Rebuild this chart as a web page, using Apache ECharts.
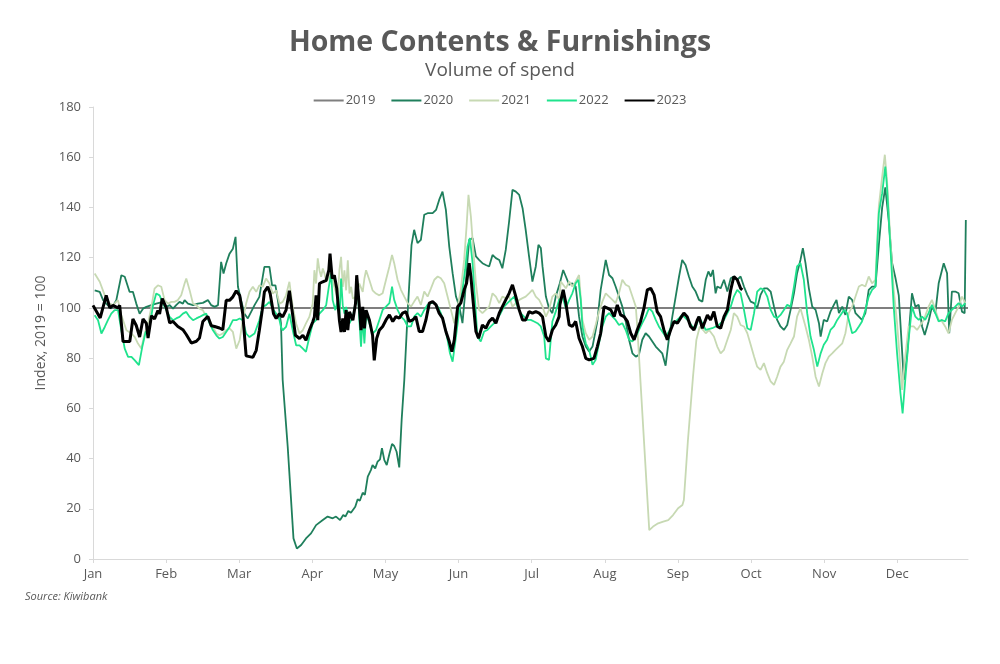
<!DOCTYPE html>
<html>
<head>
<meta charset="utf-8">
<script src="https://cdn.jsdelivr.net/npm/echarts@6/dist/echarts.min.js"></script>
<style>
html,body{margin:0;padding:0;background:#fff;}
#chart{width:1000px;height:664px;}
</style>
</head>
<body>
<div id="chart"></div>
<script>
// ---- DATA (x = day of year, y = index value) ----
const months = ['Jan','Feb','Mar','Apr','May','Jun','Jul','Aug','Sep','Oct','Nov','Dec'];
const seriesNames = ['2019','2020','2021','2022','2023'];

const s2019 = [[0,100],[364,100]];

const s2020 = [[0.7,107],[2.8,106.4],[4.2,103.1],[5.5,101.7],[7.6,99.7],[9.7,103.1],[11.8,113],[13.2,112.4],[13.9,112.6],[15.2,106.4],[16.6,106.4],[18,101.7],[19.4,97.7],[20.8,99.7],[22.2,100.4],[24.3,101.1],[26.3,101.7],[29.1,102.4],[30.5,100.4],[31.9,101.1],[33.3,99.7],[34.6,101.1],[36,102.4],[37.4,101.7],[38.1,103.1],[39.5,101.7],[41.6,101.1],[43.6,101.7],[45.7,102],[47.8,103.1],[49.2,101.1],[50.6,100.4],[52,101.1],[53.3,118.3],[54.3,113.7],[55.4,117.7],[56.8,121.6],[58.2,123.6],[59.3,128.3],[60.3,108.4],[61.6,103.1],[63,97.7],[64.4,95.8],
[65.1,96.4],[67.2,101.1],[69.2,104.4],[71.3,116.3],[73.4,116.3],[74.5,109],[75.9,109],[76.9,103.1],[78.2,93.8],
[78.9,71.3],[81,44.7],[83.4,8.2],[84.8,4.2],[86.6,5.6],[88.6,8.2],[90.7,10.2],[92.8,13.5],[95.6,15.5],[97.6,16.9],[99.7,16.2],[101.1,16.9],[102.8,15.5],[104.1,17.5],[105,16.9],[106.2,19.1],[107.3,18.4],[109.1,20.8],[110.1,23.8],[111,23.2],[112.2,26.4],[113.1,25.5],[114.3,32.8],[115.6,35.4],[116.3,37.4],[117.4,36.1],[118.4,38.8],[119.4,39.7],[120.2,44.1],[121.2,39.4],[122.2,37.4],[123.3,41.8],[124.4,45.8],[125.3,45],[126.3,42.7],[127.4,36.5],[128.4,55.4],[129.5,71.3],
[131,100],[132.5,125],[133.6,131.1],[134.3,128.4],[135,125.8],[136.4,127.1],[137.8,137.1],[139.2,137.7],[141.3,137.7],[142.7,139],[144,143],[145.4,146.3],[146.1,146.3],[146.8,139],[148.2,124.4],[149.6,113.8],[151,104.5],[152.4,100.5],[153.7,93.9],[154.8,105.8],[155.8,119.1],[156.5,127.1],[157.9,127.8],[159.3,120.5],[160.6,119.1],[162,117.8],[163.4,117.1],[164.8,116.5],[166.2,121.1],[167.6,119.8],[169,119.1],[170.3,115.8],[171.7,123.1],[173.1,134.4],[174.5,147],[175.9,146.3],[177.3,145],[178.7,139.7],[180,131.1],[181.4,120.5],[182.8,110.5],[184.2,116.5],[185.3,125.1],[186.3,123.8],[187,116.5],[188.4,104.5],[189.7,99.9],[191.1,97.9],[192.5,104.5],
[194.2,109.8],[195.6,115.1],[196.7,112.5],[198.1,109.2],[199.4,109.8],[200.8,108.5],[202.2,96.5],[203.6,88.6],[205,84.6],[206.4,82.6],[207.8,84.6],[209.8,94.6],[211.2,107.2],[212.6,115.1],[213.3,119.1],[214.7,113.1],[216.1,111.8],[217.4,108.5],[218.8,104.5],[220.2,100.5],[221.6,94.6],[223,87.3],[224.4,81.9],[225.8,80.6],[227.1,81.3],[228.5,87.3],[229.9,89.9],[231.3,88.6],[232.7,86.6],[234.1,84.6],[235.4,83.3],[236.8,81.9],[238.2,77],[239.6,87.9],[241,96.5],[242.4,104.5],[243.8,112.5],[245.1,119.1],[246.5,117.1],[247.9,112.5],[249.3,108.5],[250.7,106.5],
[252.1,103.2],[253.5,102.5],[254.9,111.2],[256,114.5],[257,112.5],[257.9,115.1],[259,105.8],[259.7,108.5],[261.1,107.8],[262.5,111.2],[263.9,106.5],[265.3,111.8],[266.6,112.5],[268,111.2],[269.4,112.5],[270.8,108.5],[272.2,105.2],[273.6,102.5],[275,101.9],[276.3,99.9],[277.7,105.2],[279.1,107.8],[280.5,107.8],[281.9,106.5],[283.3,100.5],[284.6,95.2],[286,92.6],[287.4,91.2],[288.8,93.2],[290.2,99.2],[291.6,105.8],[292.9,113.8],[294.3,119.1],[295.3,123.8],[296.4,117.8],[297.8,107.8],[299.2,100.5],[300.6,99.2],[302,93.9],[302.7,88.6],[304,95.2],[305.4,94.6],[306.8,98.5],[308.2,101.2],[309.3,103.2],[310.3,97.9],[311.7,100.5],[313,97.2],
[314.4,104.5],[315.8,103.2],[317.2,97.9],[318.6,96.5],[319.9,95.2],[321.3,97.9],[322.7,107.2],[324.1,108.5],[325.5,108.5],[326.9,125],[328.3,140],[329.6,148],[331,135],[332.4,118],[333.8,112],[335.2,105],[337.3,71.3],[338.6,80.6],[340.7,105.8],[342.1,100.5],[343.5,101.2],[344.9,92.6],[346,89.2],[347.6,94.6],[349,100.5],[350.4,97.9],[351.8,109.8],[353.9,117.8],[355.3,113.8],[356.2,89.9],[357.3,106.5],[358.7,106.5],[360.1,105.8],[361.5,98.5],[362.6,97.9],[363.1,135]];

const s2021 = [[0.7,113.7],[2.8,110.4],[4.9,105],[7,101.7],[8.3,101.1],[10.4,103.1],[11.8,97.1],[13.9,91.1],[16,89.8],[17.4,88.4],[18.7,85.8],[20.1,83.8],[21.5,89.8],[22.9,93.8],[24.3,100.4],[25.6,107.7],[27,109],[28.4,108.4],[29.8,103.1],[31.2,101.7],[32.6,102.4],[33.9,102.4],[35.3,103.1],[36.7,105],[38.1,109.7],[38.8,111.7],[40.2,107],[41.6,101.7],[43,101.1],[44.3,99.7],[45.7,99.1],[47.1,96.4],[48.5,95.1],[49.9,92.4],[51.3,89.8],[52.6,89.1],[54,89.8],[55.4,91.1],[56.8,91.8],[58.2,90.4],[59.6,83.8],[61,87.1],[62.3,95.1],[63.7,101.7],
[65.1,106.4],[66.5,108.4],[67.9,106.4],[69.2,109],[70.6,108.4],[72,111.7],[73.4,109.7],[74.8,105.7],[76.2,107],[77.6,101.7],[78.9,102.4],[80.3,105],[81.7,110.4],[83.1,100.4],[84.5,93.8],[85.9,89.8],[87.3,91.1],[88.6,93.8],[90,96.4],[91.4,101.7],[92.1,115],[92.8,109.7],[93.5,119.7],[94.2,115],[94.9,112.4],[95.6,115.7],[96.3,113.7],[97,110.4],[98.1,111.7],[99.1,115],[100.4,108.4],[101.8,103.7],[102.5,115],[103.2,120.3],[103.9,108.4],[104.6,115],[105.3,107],[106,119],[106.7,105.7],[107.4,108.4],[108.1,103.7],[109.4,104.4],[110.8,109.7],[112.2,106.4],[112.9,111.7],[113.6,115],[115,111],[116.3,107],[117.7,105.7],[119.1,105],
[120.5,105.8],[121.9,111.2],[123.3,116.5],[124.4,121.1],[125.3,117.8],[126.7,111.2],[128.1,107.2],[129.5,104.5],[130.9,101.9],[132.3,100.5],[133.6,102.5],[135,104.5],[136.4,101.2],[137.8,106.5],[139.2,104.5],[140.6,107.8],[142,111.2],[143.4,112.5],[144.7,111.8],[146.1,109.8],[147.5,104.5],[148.9,99.2],[150.3,93.9],[151.7,100.5],[153,107.2],[154.4,119.1],[155.4,132.4],[156.2,145],[157.2,136.4],[158.2,123.1],[159.3,109.8],[160.6,99.2],[162,97.9],[163.4,99.2],[164.8,100.5],[166.2,105.8],[167.6,104.5],[169,101.9],[170.3,104.5],[171.7,103.9],[173.1,104.5],[174.5,100.5],[175.9,101.9],[177.3,103.2],[178.7,103.9],[180,104.5],[181.4,105.8],[182.8,107.2],[184.2,104.5],[185.6,103.2],[187,100.5],[188.4,96.5],[189.7,99.2],[191.1,104.5],[192.5,105.8],[193.9,103.2],
[194.6,110.5],[195.3,109.8],[196.7,107.8],[198.1,110.5],[199.4,108.5],[200.8,110.5],[202.2,113.1],[203.6,95.2],[205,89.9],[206.4,87.3],[207.8,88.6],[209.1,93.2],[210.5,98.5],[211.9,102.5],[213.3,105.8],[214.7,104.5],[216.1,103.2],[217.4,101.9],[218.8,105.8],[220.2,111.2],[221.6,109.2],[223,108.5],[224.4,104.5],[225.8,100.5],[226.4,92.6],
[231.4,11.5],[233,12.9],[235.1,14.2],[237.2,14.9],[239.3,15.5],[241.3,17.5],[243.4,20.2],[245.2,21.5],[245.8,23.5],[247.5,47.4],[249.6,72.6],[251,87.2],[252.4,92.5],[253.8,91.2],
[254.9,89.9],[256.3,91.2],[258.3,88.6],[259.7,84.6],[261.1,81.9],[262.5,83.3],[263.9,87.3],[265.3,91.2],[266.6,97.9],[268,96.5],[269.4,93.2],[270.8,92.6],[272.2,89.9],[273.6,85.3],[275,80.6],[276.3,76.6],[277.7,75.3],[279.1,78],[280.5,74],[281.9,70.7],[283.3,69.3],[284.6,72.6],[286,76.6],[287.4,78.6],[288.8,83.3],[290.2,85.9],[291.6,88.6],[292.9,96.5],[294.3,99.9],[295,100.5],[296.4,92.6],[297.8,87.3],[299.2,80.6],[300.6,72.6],[302,68.7],[303.4,74],[304.7,78],[306.1,80.6],[307.5,81.9],[308.9,83.3],[310.3,84.6],[311.7,85.9],[313,89.9],
[314.4,97.9],[315.8,100.5],[317.2,104.5],[318.6,108.5],[319.9,109.2],[321.3,108.5],[322.7,112.5],[324.1,109.8],[325.5,111.2],[326.9,140.4],[328.3,152.3],[329.4,161],[330.3,151],[331.7,127.1],[333.1,107.2],[334.5,93.9],[336.6,67.3],[337.9,80.6],[339.3,92.6],[341.4,92.6],[342.8,91.2],[344.2,93.2],[345.6,95.2],[347.6,100.5],[349,103.2],[350.4,99.2],[351.8,95.2],[353.2,94.6],[354.5,92.6],[355.9,89.9],[357.3,95.2],[358.7,97.9],[360.1,100.5],[361.5,104.5],[362.9,101.9]];

const s2022 = [[0.7,97.1],[2.1,95.1],[3.5,89.8],[4.9,92.4],[6.2,95.1],[7.6,97.7],[9,99.1],[10.4,99.1],[11.8,91.1],[13.2,83.8],[14.6,80.5],[16,80.5],[17.4,79.1],[19.1,77.2],[20.5,84.5],[21.9,90.4],[23.3,91.1],[25,101.1],[26.3,105.7],[27.7,105],[29.1,101.7],[30.5,99.1],[31.9,96.4],[33.3,95.1],[34.6,95.8],[36,96.4],[37.4,97.7],[38.8,98.4],[40.2,96.4],[41.6,95.1],[43,95.8],[44.3,96.4],[45.7,97.1],[47.1,97.7],[48.5,93.8],[49.9,91.1],[51.3,89.1],[52.6,87.8],[54,88.4],[55.4,90.4],[56.8,92.4],[58.2,95.1],[59.6,95.1],[61,95.8],[62.3,95.1],[63.7,89.8],
[65.1,88.4],[67.2,89.8],[69.2,95.1],[70.6,100.4],[72,101.1],[73.4,102.4],[74.8,99.7],[76.2,97.7],[77.6,95.1],[78.2,92.4],[78.9,91.1],[80.3,92.4],[81.7,97.7],[83.1,91.1],[84.5,85.1],[85.9,85.1],[87.3,83.8],[88.6,82.5],[90,88.4],[91.4,93.8],[92.8,95.1],[94.2,97.7],[95.6,99.1],[97,101.1],[98.1,108.4],[99.1,113.7],[99.7,103.1],[100.8,99.1],[101.8,103.1],[102.5,95.1],[103.2,111.7],[103.9,101.1],[104.6,97.7],[105.3,100.4],[106.7,93.8],[108.1,96.4],[109.4,103.1],[110.1,108.4],[110.8,95.1],[111.5,84.5],[112.2,96.4],[112.9,85.8],[113.6,97.7],[115,93.8],[116.3,89.8],[117.7,91.1],[119.1,95.1],
[120.5,99.2],[121.9,100.5],[123.3,101.9],[124.4,108.5],[125.3,103.2],[126.7,99.2],[128.1,96.5],[129.5,95.2],[130.9,92.6],[132.3,92.6],[133.6,96.5],[135,97.9],[136.4,96.5],[137.8,99.2],[139.2,101.2],[140.6,101.9],[142,101.9],[143.4,100.5],[144.7,97.9],[146.1,93.9],[147.5,87.3],[148.5,81.9],[149.6,78.6],[151,88.6],[152.4,99.2],[153.7,107.2],[154.8,115.1],[155.8,124.4],[156.8,127.8],[157.9,117.8],[159,101.9],[159.9,88.6],[161.3,86.6],[162.7,90.6],[164.1,91.2],[165.5,92.6],[166.9,93.9],[168.3,95.9],[169.6,97.9],[171,100.5],[172.4,101.9],[173.8,103.2],[175.2,104.5],[176.6,100.5],[177.9,97.9],[179.3,96.5],[180.7,95.2],[182.1,95.2],[183.5,94.6],[184.9,93.9],[186.3,92.6],[187.7,88.6],[188.4,79.9],[189.7,79.3],
[191.1,94.6],[192.5,98.5],[193.9,103.2],[195.3,104.5],[196.7,99.9],[198.1,103.2],[199.4,105.8],[200.8,109.8],[201.9,111.2],[202.9,103.2],[203.6,92.6],[205,85.9],[206.4,83.3],[207.8,77.3],[209.1,79.3],[210.5,85.9],[211.9,92.6],[213.3,96.5],[214.7,97.9],[216.1,96.5],[217.4,95.2],[218.8,93.2],[220.2,93.9],[221.6,91.2],[223,87.3],[224.4,86.6],[225.8,88.6],[227.1,91.2],[228.5,93.9],[229.9,96.5],[231.3,99.9],[232.7,98.5],[234.1,95.2],[235.4,92.6],[236.8,90.6],[238.2,88.6],[239.6,90.6],[241,93.2],[242.4,94.6],[243.8,95.9],[245.1,97.2],[246.5,95.9],[247.9,94.6],[249.3,92.6],[250.7,91.9],
[252.1,96.5],[254.9,91.2],[257.6,91.9],[260.4,93.2],[262.5,95.2],[263.9,97.9],[265.3,100.5],[266.6,104.5],[268,107.2],[269.4,105.8],[270.8,99.2],[272.2,91.9],[273.6,91.2],[275,97.9],[276.3,106.5],[277.7,107.8],[279.1,107.2],[280.5,104.5],[281.9,99.2],[283.3,96.5],[284.6,95.9],[286,97.2],[287.4,99.2],[288.8,101.2],[290.2,100.5],[291.6,108.5],[292.9,116.5],[294.3,117.8],[295.7,111.2],[297.1,97.9],[298.5,88.6],[299.9,83.3],[301.3,76.6],[302.7,81.9],[304,85.3],[305.4,87.3],[306.8,91.2],[308.2,92.6],[309.6,95.2],[311,97.2],[312.4,99.2],[313.7,97.9],
[314.4,95.2],[315.8,89.9],[317.2,90.6],[318.6,92.6],[319.9,94.6],[321.3,99.2],[322.7,104.5],[324.1,107.2],[325.5,108.5],[326.9,137.7],[328.3,145.7],[329.6,156.3],[330.3,148.3],[331.7,124.4],[333.1,100.5],[334.5,81.9],[335.9,66],[336.8,58],[337.9,71.3],[339.3,87.3],[340.7,100.5],[342.1,96.5],[343.5,95.2],[344.9,96.5],[346.2,95.2],[347.6,97.9],[349,101.2],[350.4,97.9],[351.8,94.6],[353.2,95.2],[354.5,94.6],[355.9,97.9],[357.3,99.2],[358.7,100.5],[360.1,101.9],[361.5,100.5],[362.9,101.9]];

const s2023 = [[0,101],[3,96],[5.5,105],[7,100],[8.3,101],[10.4,100],[11.1,101],[12.5,86.6],[15.3,86.6],[16.6,95.6],[18,93],[19.4,88.4],[20.8,95.6],[22.2,93.8],[22.9,88],[24.3,96.9],[25.6,95.6],[27,98.9],[27.7,97.6],[28.8,103.7],[30.5,100],[31.9,94],[33.3,94.6],[35.3,92.6],[37.4,91.3],[38.8,89.4],[40.9,86],[43,86.7],[44.3,88],[45.7,94.6],[47.8,96.6],[49.2,92.9],[50.6,92.6],[52.6,92],[54,91.3],[55.4,103],[56.8,103],[58.2,104.4],[59.6,106.8],[61,105],[62.3,97.6],[63.7,80.9],[66.5,80.3],
[67.9,83.1],[69.2,91.1],[70.4,99.1],[71.3,106.4],[72.7,108.4],[73.7,105.7],[75.1,97.7],[76.2,95.8],[77.6,97.7],[78.9,96.4],[80.3,99.1],[81.7,106.8],[82.8,99.1],[84.2,89.1],[85.9,87.8],[87.3,89.1],[88.6,87.1],[90,91.1],[91.4,94.4],[92.1,96.4],[92.8,105],[93.5,95.1],[94.2,109.7],[95.6,110.4],[97,111],[98.1,115],[98.6,121.6],[99.5,111.7],[100.4,113],[101.4,107.7],[102.5,95.1],[103.2,90.4],[103.9,95.8],[104.6,90.4],[105.3,99.1],[106,91.1],[106.7,98.4],[108.1,95.1],[109.2,101.7],[109.7,113],[110.8,100.4],[111.5,91.1],[112.2,100.4],[112.9,91.8],[113.6,99.1],[115,95.1],[116.3,89.1],[117,79.1],[118,87.8],[119.1,91.1],
[120.5,92.6],[121.9,95.2],[123.3,97.2],[124.7,94.6],[126,96.5],[127.4,95.9],[128.8,97.9],[130.2,98.5],[131.6,94.6],[133,95.2],[134.3,96.5],[135.7,90.6],[137.1,90.6],[138.5,95.2],[139.9,101.9],[141.3,102.5],[142.7,101.2],[144,97.9],[145.4,95.9],[146.8,90.6],[148.2,86.6],[149.3,82.6],[150.3,87.3],[151.7,100.5],[153,101.9],[154.4,107.2],[155.4,109.8],[156.5,117.8],[157.2,112.5],[158.2,101.9],[159.3,90.6],[160.4,87.9],[162,93.2],[163.4,91.9],[164.8,94.6],[166.2,95.9],[167.6,93.9],[169,97.9],[170.3,100.5],[171.7,103.2],[173.1,105.8],[174.5,109.2],[175.9,104.5],[177.3,99.2],[178.7,95.2],[180,95.2],[181.4,98.5],[182.8,97.9],[184.2,98.5],[185.6,97.9],[187,96.5],[188.4,88.6],[189.7,86.6],[191.1,91.2],[192.5,93.2],[193.9,96.5],
[194.2,101.2],[195.6,107.2],[196.7,101.9],[198.1,93.2],[199.4,92.6],[200.8,94.6],[202.2,87.9],[203.6,84.6],[205,79.9],[206.4,79.3],[208.4,79.9],[209.8,84.6],[211.2,89.9],[212.6,100.5],[214,99.9],[215.4,99.2],[216.8,96.5],[218.1,101.2],[219.5,97.2],[220.9,96.5],[222.3,94.6],[223.7,89.9],[225.1,87.3],[226.4,91.2],[227.8,94.6],[229.2,99.9],[230.6,107.2],[232,107.8],[233.4,105.2],[234.7,98.5],[236.1,96.5],[237.5,91.2],[238.9,87.3],[240.3,91.2],[241.7,94.6],[243.1,93.9],[244.4,95.9],[245.8,97.9],[247.2,96.5],[248.6,92.6],[250,91.2],[251.4,95.2],
[252.1,96.5],[253.5,91.9],[254.2,91.2],[255.6,97.2],[256.9,95.2],[258.3,98.5],[259.7,92.6],[261.1,91.9],[262.5,96.5],[263.9,99.2],[265.3,107.2],[266.6,112.5],[268,111.2],[269.4,107.8],[270.1,107.2]];

// ---- CHART ----
const monthTicks = months.map((m, i) => i * 365 / 12);
const seriesData = [s2019, s2020, s2021, s2022, s2023];
const colors = ['#7f7f7f', '#1f7f5c', '#c7d9b3', '#1fe38d', '#000000'];
const widths = [2, 1.8, 1.8, 1.8, 3];
const FONT = '"Open Sans", Lato, sans-serif';

const chart = echarts.init(document.getElementById('chart'), null, {renderer: 'canvas'});
chart.setOption({
  animation: false,
  backgroundColor: '#ffffff',
  textStyle: {fontFamily: FONT},
  title: {
    text: 'Home Contents & Furnishings',
    subtext: 'Volume of spend',
    left: 'center',
    top: 23,
    itemGap: 4,
    textStyle: {fontFamily: FONT, fontSize: 28.5, fontWeight: 'bold', color: '#595959'},
    subtextStyle: {fontFamily: FONT, fontSize: 19, color: '#595959'}
  },
  legend: {
    top: 89,
    left: 'center',
    icon: 'rect',
    itemWidth: 30,
    itemHeight: 2,
    itemGap: 16,
    textStyle: {fontFamily: FONT, fontSize: 13, color: '#595959', padding: [0,0,0,-3]},
    data: seriesNames
  },
  grid: {left: 93, right: 32, top: 107, bottom: 105},
  xAxis: {
    type: 'value',
    min: 0,
    max: 364,
    axisLine: {show: true, lineStyle: {color: '#d9d9d9', width: 1}},
    axisTick: {show: true, customValues: monthTicks, length: 4, lineStyle: {color: '#d9d9d9'}},
    axisLabel: {
      customValues: monthTicks,
      formatter: v => months[Math.round(v * 12 / 365)] || '',
      color: '#595959', fontSize: 13, margin: 9, fontFamily: FONT
    },
    splitLine: {show: false}
  },
  yAxis: {
    type: 'value',
    min: 0,
    max: 180,
    interval: 20,
    name: 'Index, 2019 = 100',
    nameLocation: 'middle',
    nameGap: 39,
    nameTextStyle: {color: '#595959', fontSize: 14, fontFamily: FONT},
    axisLine: {show: true, lineStyle: {color: '#d9d9d9', width: 1}},
    axisTick: {show: true, length: 4, lineStyle: {color: '#d9d9d9'}},
    axisLabel: {color: '#595959', fontSize: 13, margin: 12, fontFamily: FONT},
    splitLine: {show: false}
  },
  series: seriesNames.map((name, i) => ({
    name: name,
    type: 'line',
    data: seriesData[i],
    showSymbol: false,
    symbol: 'none',
    color: colors[i],
    lineStyle: {color: colors[i], width: widths[i]},
    z: 2 + i
  })),
  graphic: [{
    type: 'text',
    left: 25,
    top: 591,
    style: {text: 'Source: Kiwibank', fill: '#595959', font: 'italic 11px ' + FONT}
  }]
});
</script>
</body>
</html>
